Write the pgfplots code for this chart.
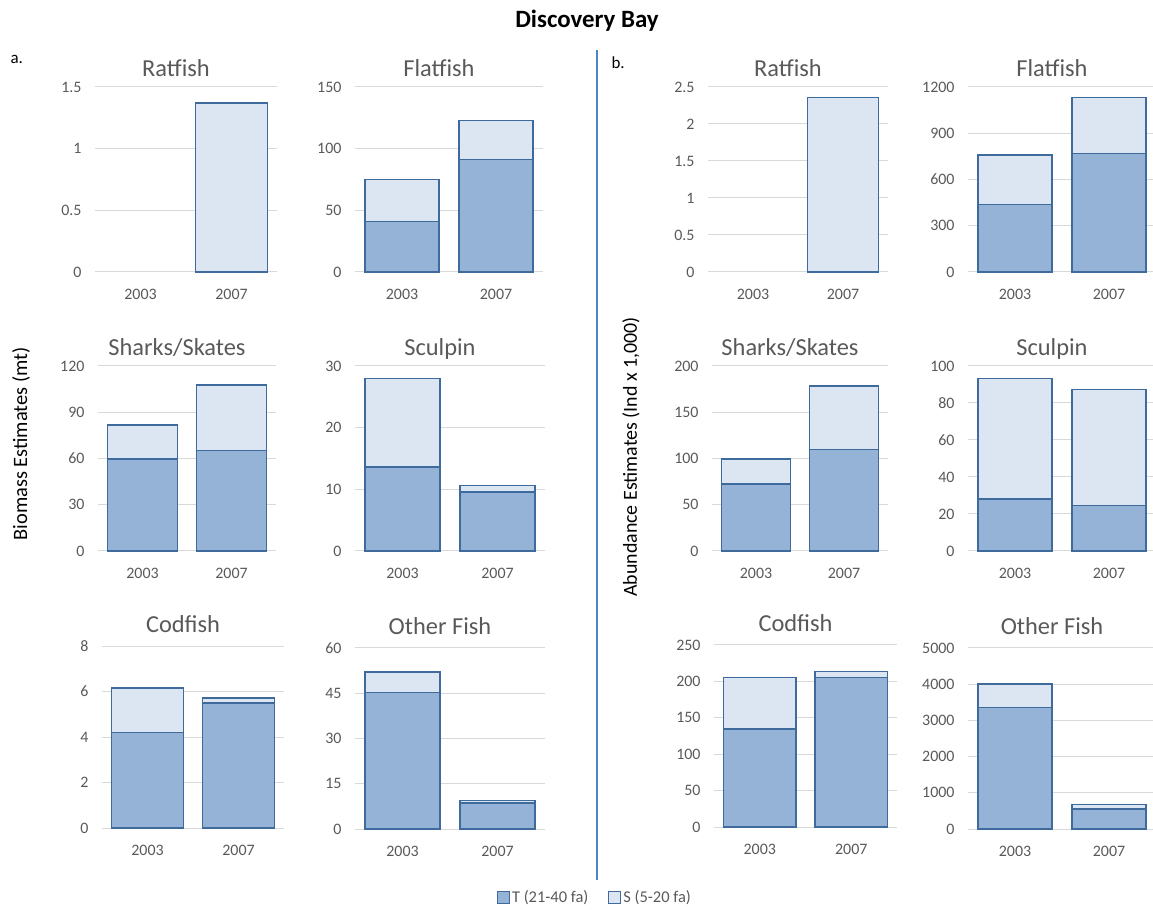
\documentclass[border=0pt]{standalone}
\usepackage{fontspec}
\setmainfont{Carlito}
\usepackage{pgfplots}
\pgfplotsset{compat=1.18}
\definecolor{Tf}{HTML}{95B3D7}
\definecolor{Sf}{HTML}{DCE6F2}
\definecolor{edge}{HTML}{3F6A9C}
\definecolor{gridc}{HTML}{D9D9D9}
\definecolor{txt}{HTML}{595959}
\definecolor{divc}{HTML}{4A86C8}
\pgfplotsset{panel/.style={
  scale only axis, anchor=south west,
  xmin=-0.5, xmax=1.5, xtick={0,1}, xticklabels={2003,2007},
  ymin=0,
  axis line style={draw=none},
  major tick length=0pt,
  ymajorgrids, grid style={draw=gridc, line width=1bp},
  tick label style={font=\fontsize{16}{18}\selectfont, text=txt},
  /pgf/number format/assume math mode=true,
  /pgf/number format/1000 sep={},
  scaled y ticks=false,
  yticklabel style={xshift=-10bp},
  xticklabel style={yshift=-14bp},
  title style={font=\fontsize{24.5}{28}\selectfont, text=txt, at={(0.5,1)}, anchor=base, yshift=5bp, xshift=-10bp},
  ybar stacked, bar width=0.79,
  clip=false,
},
row3/.style={title style={yshift=3bp}},
Tbar/.style={fill=Tf, draw=edge, line width=1.4bp},
Sbar/.style={fill=Sf, draw=edge, line width=1.4bp},
}
\begin{document}
\begin{tikzpicture}
\useasboundingbox (0bp,0bp) rectangle (1153bp,910bp);
% main title
\node[font=\bfseries\fontsize{25}{28}\selectfont] at (587bp,889bp) {Discovery Bay};
\node[font=\fontsize{17}{20}\selectfont, anchor=west] at (7bp,851bp) {a.};
\node[font=\fontsize{17}{20}\selectfont, anchor=west] at (608bp,847bp) {b.};
\draw[divc, line width=1.3bp] (597bp,860bp) -- (597bp,30bp);
\node[font=\fontsize{20.5}{22}\selectfont, rotate=90] at (21bp,466bp) {Biomass Estimates (mt)};
\node[font=\fontsize{20}{22}\selectfont, rotate=90] at (631bp,453bp) {Abundance Estimates (Ind x 1,000)};

% ---- a: Ratfish
\begin{axis}[panel, at={(95bp,638bp)}, width=182bp, height=185bp, ymax=1.5, ytick={0,0.5,1,1.5}, title={Ratfish}]
\addplot[Sbar] coordinates {(1,1.37)};
\end{axis}
% ---- a: Flatfish
\begin{axis}[panel, at={(355bp,638bp)}, width=188bp, height=185bp, ymax=150, ytick={0,50,100,150}, title={Flatfish}]
\addplot[Tbar] coordinates {(0,41) (1,91)};
\addplot[Sbar] coordinates {(0,34) (1,32)};
\end{axis}
% ---- b: Ratfish
\begin{axis}[panel, at={(708bp,638bp)}, width=180bp, height=185bp, ymax=2.5, ytick={0,0.5,1,1.5,2,2.5}, title={Ratfish}]
\addplot[Sbar] coordinates {(1,2.36)};
\end{axis}
% ---- b: Flatfish
\begin{axis}[panel, at={(968bp,638bp)}, width=188bp, height=185bp, ymax=1200, ytick={0,300,600,900,1200}, title={Flatfish}]
\addplot[Tbar] coordinates {(0,439) (1,770)};
\addplot[Sbar] coordinates {(0,320) (1,363)};
\end{axis}

% ---- a: Sharks/Skates
\begin{axis}[panel, at={(98bp,359bp)}, width=178bp, height=185bp, ymax=120, ytick={0,30,60,90,120}, title={Sharks/Skates}]
\addplot[Tbar] coordinates {(0,59.7) (1,65.0)};
\addplot[Sbar] coordinates {(0,22.0) (1,42.7)};
\end{axis}
% ---- a: Sculpin
\begin{axis}[panel, at={(355bp,359bp)}, width=190bp, height=185bp, ymax=30, ytick={0,10,20,30}, title={Sculpin}]
\addplot[Tbar] coordinates {(0,13.6) (1,9.57)};
\addplot[Sbar] coordinates {(0,14.4) (1,1.08)};
\end{axis}
% ---- b: Sharks/Skates
\begin{axis}[panel, at={(712bp,359bp)}, width=176bp, height=185bp, ymax=200, ytick={0,50,100,150,200}, title={Sharks/Skates}]
\addplot[Tbar] coordinates {(0,72.4) (1,110)};
\addplot[Sbar] coordinates {(0,27.1) (1,68.4)};
\end{axis}
% ---- b: Sculpin
\begin{axis}[panel, at={(968bp,359bp)}, width=188bp, height=185bp, ymax=100, ytick={0,20,40,60,80,100}, title={Sculpin}]
\addplot[Tbar] coordinates {(0,28.1) (1,24.5)};
\addplot[Sbar] coordinates {(0,65.2) (1,62.9)};
\end{axis}

% ---- a: Codfish
\begin{axis}[panel, row3, at={(102bp,82bp)}, width=182bp, height=182bp, ymax=8, ytick={0,2,4,6,8}, title={Codfish}]
\addplot[Tbar] coordinates {(0,4.2) (1,5.5)};
\addplot[Sbar] coordinates {(0,1.95) (1,0.22)};
\end{axis}
% ---- a: Other Fish
\begin{axis}[panel, row3, at={(355bp,81bp)}, width=190bp, height=181bp, ymax=60, ytick={0,15,30,45,60}, title={Other Fish},
  legend columns=2,
  legend style={draw=none, fill=none, at={(1.263,-0.376)}, anchor=center, font=\fontsize{16.5}{19}\selectfont, text=txt,
    /tikz/every even column/.append style={column sep=18bp}},
  legend image code/.code={\draw[#1, line width=1bp] (0bp,-6bp) rectangle (12bp,6bp);}]
\addplot[Tbar] coordinates {(0,45.3) (1,8.6)};
\addplot[Sbar] coordinates {(0,6.8) (1,0.9)};
\legend{T (21-40 fa), S (5-20 fa)}
\end{axis}
% ---- b: Codfish
\begin{axis}[panel, row3, at={(714bp,83bp)}, width=183bp, height=182bp, ymax=250, ytick={0,50,100,150,200,250}, title={Codfish}]
\addplot[Tbar] coordinates {(0,134.6) (1,205.6)};
\addplot[Sbar] coordinates {(0,71.0) (1,7.7)};
\end{axis}
% ---- b: Other Fish
\begin{axis}[panel, row3, at={(968bp,81bp)}, width=188bp, height=181bp, ymax=5000, ytick={0,1000,2000,3000,4000,5000}, title={Other Fish}]
\addplot[Tbar] coordinates {(0,3362) (1,552)};
\addplot[Sbar] coordinates {(0,644) (1,130)};
\end{axis}
\end{tikzpicture}
\end{document}
